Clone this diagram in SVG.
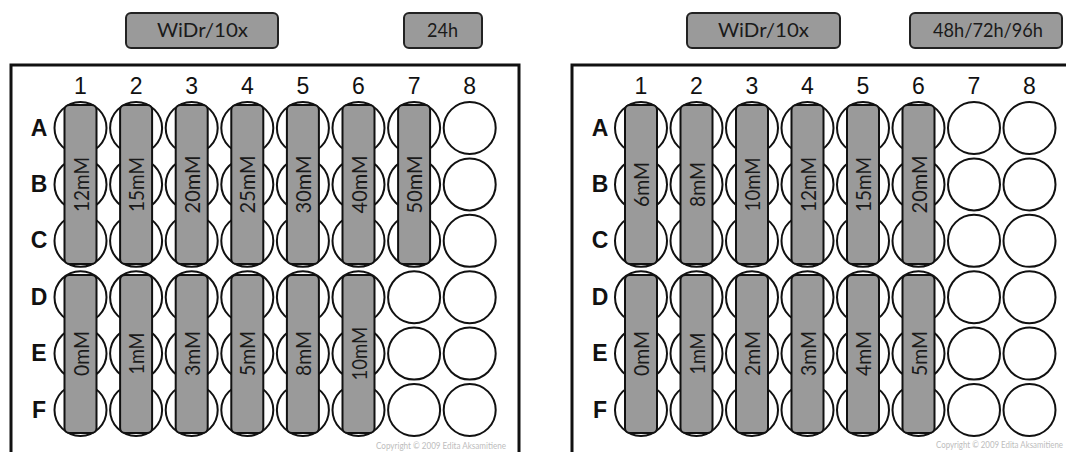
<svg xmlns="http://www.w3.org/2000/svg" width="1066" height="452" viewBox="0 0 1066 452">
<style>
.frame{fill:#fff;stroke:#111;stroke-width:3}
.well{fill:#fff;stroke:#111;stroke-width:2}
.bar{fill:#9a9a9a;stroke:#111;stroke-width:2}
.tag{fill:#9a9a9a;stroke:#222;stroke-width:2}
.tagt{font-family:Lato,"Open Sans",sans-serif;font-size:20px;fill:#1a1a1a;text-anchor:middle}
.col{font-family:"Liberation Sans",Arial,sans-serif;font-size:23px;fill:#111;text-anchor:middle}
.row{font-family:"Liberation Sans",Arial,sans-serif;font-size:23px;font-weight:bold;fill:#111;text-anchor:middle}
.bt{font-family:Lato,"Open Sans",sans-serif;font-size:22px;fill:#1a1a1a;text-anchor:middle}
.copy{font-family:Lato,"Open Sans",sans-serif;font-size:10px;fill:#bdbdbd;text-anchor:end}
</style>
<defs>
<circle id="w" r="26" class="well"/>
<rect id="tb" x="-16" y="105" width="32" height="159" rx="5" class="bar"/>
<rect id="bb" x="-16" y="275" width="32" height="158" rx="5" class="bar"/>
<g id="wells">
<use href="#w" y="128"/><use href="#w" y="184.4"/><use href="#w" y="240.8"/>
<use href="#w" y="297.2"/><use href="#w" y="353.6"/><use href="#w" y="410"/>
</g>
</defs>

<g id="tags">
<g id="tag-left-cell"><rect class="tag" x="126" y="13" width="152" height="35" rx="5"/><text class="tagt" x="202.5" y="37" textLength="91" lengthAdjust="spacingAndGlyphs">WiDr/10x</text></g>
<g id="tag-left-time"><rect class="tag" x="404" y="13" width="78" height="35" rx="5"/><text class="tagt" x="442.5" y="37" textLength="31" lengthAdjust="spacingAndGlyphs">24h</text></g>
<g id="tag-right-cell"><rect class="tag" x="687" y="13" width="153" height="35" rx="5"/><text class="tagt" x="763.5" y="37" textLength="91" lengthAdjust="spacingAndGlyphs">WiDr/10x</text></g>
<g id="tag-right-time"><rect class="tag" x="910" y="13" width="152" height="35" rx="5"/><text class="tagt" x="988" y="37" textLength="110" lengthAdjust="spacingAndGlyphs">48h/72h/96h</text></g>
</g>

<g id="plate-left">
<rect class="frame" x="11" y="65" width="508" height="400"/>
<g class="col">
<text x="80.5" y="94">1</text><text x="136.1" y="94">2</text><text x="191.7" y="94">3</text><text x="247.3" y="94">4</text>
<text x="302.9" y="94">5</text><text x="358.5" y="94">6</text><text x="414.1" y="94">7</text><text x="469.7" y="94">8</text>
</g>
<g class="row">
<text x="39" y="136">A</text><text x="39" y="192">B</text><text x="39" y="248">C</text>
<text x="39" y="305">D</text><text x="39" y="361">E</text><text x="39" y="418">F</text>
</g>
<g id="wells-left">
<use href="#wells" x="80.5"/><use href="#wells" x="136.1"/><use href="#wells" x="191.7"/><use href="#wells" x="247.3"/>
<use href="#wells" x="302.9"/><use href="#wells" x="358.5"/><use href="#wells" x="414.1"/><use href="#wells" x="469.7"/>
</g>
<g id="bars-left-top">
<use href="#tb" x="80.5"/><use href="#tb" x="136.1"/><use href="#tb" x="191.7"/><use href="#tb" x="247.3"/>
<use href="#tb" x="302.9"/><use href="#tb" x="358.5"/><use href="#tb" x="414.1"/>
</g>
<g id="bars-left-bottom">
<use href="#bb" x="80.5"/><use href="#bb" x="136.1"/><use href="#bb" x="191.7"/><use href="#bb" x="247.3"/>
<use href="#bb" x="302.9"/><use href="#bb" x="358.5"/>
</g>
<g class="bt">
<text transform="translate(88.5,184.4) rotate(-90)" textLength="55" lengthAdjust="spacingAndGlyphs">12mM</text>
<text transform="translate(144.1,184.4) rotate(-90)" textLength="55" lengthAdjust="spacingAndGlyphs">15mM</text>
<text transform="translate(199.7,184.4) rotate(-90)" textLength="58" lengthAdjust="spacingAndGlyphs">20mM</text>
<text transform="translate(255.3,184.4) rotate(-90)" textLength="58" lengthAdjust="spacingAndGlyphs">25mM</text>
<text transform="translate(310.9,184.4) rotate(-90)" textLength="58" lengthAdjust="spacingAndGlyphs">30mM</text>
<text transform="translate(366.5,184.4) rotate(-90)" textLength="58" lengthAdjust="spacingAndGlyphs">40mM</text>
<text transform="translate(422.1,184.4) rotate(-90)" textLength="58" lengthAdjust="spacingAndGlyphs">50mM</text>
<text transform="translate(88.5,353.6) rotate(-90)" textLength="45" lengthAdjust="spacingAndGlyphs">0mM</text>
<text transform="translate(144.1,353.6) rotate(-90)" textLength="42" lengthAdjust="spacingAndGlyphs">1mM</text>
<text transform="translate(199.7,353.6) rotate(-90)" textLength="45" lengthAdjust="spacingAndGlyphs">3mM</text>
<text transform="translate(255.3,353.6) rotate(-90)" textLength="45" lengthAdjust="spacingAndGlyphs">5mM</text>
<text transform="translate(310.9,353.6) rotate(-90)" textLength="45" lengthAdjust="spacingAndGlyphs">8mM</text>
<text transform="translate(366.5,353.6) rotate(-90)" textLength="54" lengthAdjust="spacingAndGlyphs">10mM</text>
</g>
<text class="copy" x="506" y="449" textLength="130" lengthAdjust="spacingAndGlyphs">Copyright © 2009 Edita Aksamitiene</text>
</g>

<g id="plate-right">
<rect class="frame" x="572" y="65" width="520" height="400"/>
<g class="col">
<text x="641" y="94">1</text><text x="696.5" y="94">2</text><text x="752" y="94">3</text><text x="807.5" y="94">4</text>
<text x="863" y="94">5</text><text x="918.5" y="94">6</text><text x="974" y="94">7</text><text x="1029.5" y="94">8</text>
</g>
<g class="row">
<text x="600" y="136">A</text><text x="600" y="192">B</text><text x="600" y="248">C</text>
<text x="600" y="305">D</text><text x="600" y="361">E</text><text x="600" y="418">F</text>
</g>
<g id="wells-right">
<use href="#wells" x="641"/><use href="#wells" x="696.5"/><use href="#wells" x="752"/><use href="#wells" x="807.5"/>
<use href="#wells" x="863"/><use href="#wells" x="918.5"/><use href="#wells" x="974"/><use href="#wells" x="1029.5"/>
</g>
<g id="bars-right-top">
<use href="#tb" x="641"/><use href="#tb" x="696.5"/><use href="#tb" x="752"/><use href="#tb" x="807.5"/>
<use href="#tb" x="863"/><use href="#tb" x="918.5"/>
</g>
<g id="bars-right-bottom">
<use href="#bb" x="641"/><use href="#bb" x="696.5"/><use href="#bb" x="752"/><use href="#bb" x="807.5"/>
<use href="#bb" x="863"/><use href="#bb" x="918.5"/>
</g>
<g class="bt">
<text transform="translate(649,184.4) rotate(-90)" textLength="45" lengthAdjust="spacingAndGlyphs">6mM</text>
<text transform="translate(704.5,184.4) rotate(-90)" textLength="45" lengthAdjust="spacingAndGlyphs">8mM</text>
<text transform="translate(760,184.4) rotate(-90)" textLength="54" lengthAdjust="spacingAndGlyphs">10mM</text>
<text transform="translate(815.5,184.4) rotate(-90)" textLength="55" lengthAdjust="spacingAndGlyphs">12mM</text>
<text transform="translate(871,184.4) rotate(-90)" textLength="55" lengthAdjust="spacingAndGlyphs">15mM</text>
<text transform="translate(926.5,184.4) rotate(-90)" textLength="58" lengthAdjust="spacingAndGlyphs">20mM</text>
<text transform="translate(649,353.6) rotate(-90)" textLength="45" lengthAdjust="spacingAndGlyphs">0mM</text>
<text transform="translate(704.5,353.6) rotate(-90)" textLength="42" lengthAdjust="spacingAndGlyphs">1mM</text>
<text transform="translate(760,353.6) rotate(-90)" textLength="45" lengthAdjust="spacingAndGlyphs">2mM</text>
<text transform="translate(815.5,353.6) rotate(-90)" textLength="45" lengthAdjust="spacingAndGlyphs">3mM</text>
<text transform="translate(871,353.6) rotate(-90)" textLength="45" lengthAdjust="spacingAndGlyphs">4mM</text>
<text transform="translate(926.5,353.6) rotate(-90)" textLength="45" lengthAdjust="spacingAndGlyphs">5mM</text>
</g>
<text class="copy" x="1063" y="448" textLength="127" lengthAdjust="spacingAndGlyphs">Copyright © 2009 Edita Aksamitiene</text>
</g>
</svg>
